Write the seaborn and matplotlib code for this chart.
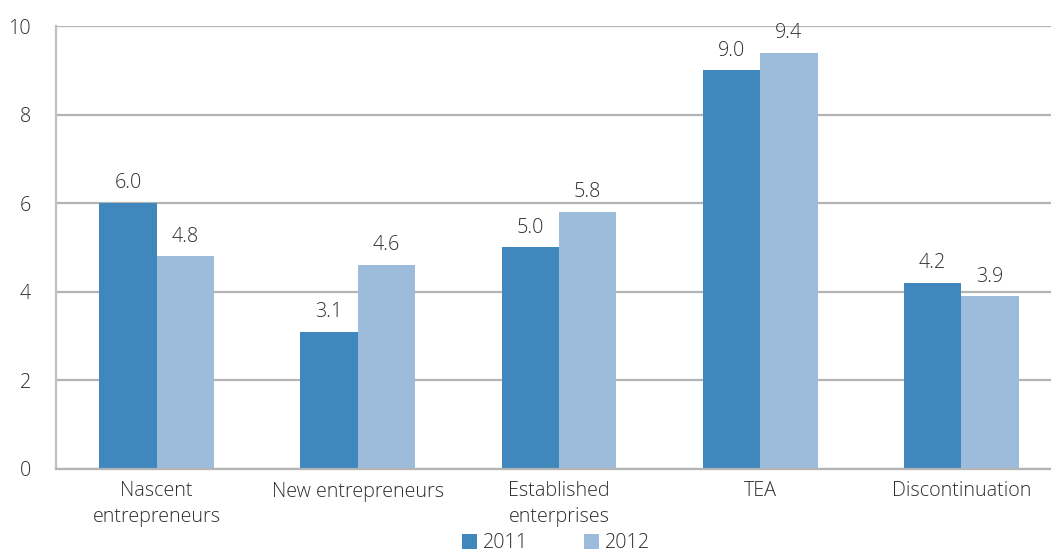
import matplotlib
matplotlib.use("Agg")
import matplotlib.pyplot as plt
import seaborn as sns
import pandas as pd
import numpy as np

categories = ["Nascent\nentrepreneurs", "New entrepreneurs", "Established\nenterprises", "TEA", "Discontinuation"]
values_2011 = [6.0, 3.1, 5.0, 9.0, 4.2]
values_2012 = [4.8, 4.6, 5.8, 9.4, 3.9]
years = ["2011", "2012"]
colors = ["#3f87bd", "#9dbcdb"]
y_ticks = [0, 2, 4, 6, 8, 10]

df = pd.DataFrame({
    "category": categories * 2,
    "value": values_2011 + values_2012,
    "year": [years[0]] * len(categories) + [years[1]] * len(categories),
})

sns.set_theme(style="white")
plt.rcParams["font.family"] = ["Open Sans", "DejaVu Sans"]
plt.rcParams["font.weight"] = "light"
text_color = "#2e2e2e"
grid_color = "#b4b4b4"
fs = 14.2

fig = plt.figure(figsize=(10.51, 5.52), dpi=100)
ax = fig.add_axes([56 / 1051, 83 / 552, (1062 - 56) / 1051, (469 - 26) / 552])

sns.barplot(data=df, x="category", y="value", hue="year", palette=colors,
            width=0.57, saturation=1, linewidth=0, ax=ax, legend=True)

for container in ax.containers:
    ax.bar_label(container, fmt="%.1f", padding=7, fontsize=fs, color=text_color, fontweight="light")

ax.set_ylim(0, 10)
ax.set_xlim(-0.5, len(categories) - 0.5)
ax.set_yticks(y_ticks)
ax.set_yticklabels([str(t) for t in y_ticks], fontsize=fs, color=text_color, fontweight="light")
ax.yaxis.grid(True, color=grid_color, linewidth=1.6)
ax.set_axisbelow(True)
ax.set_xlabel("")
ax.set_ylabel("")

ax.set_xticks(range(len(categories)))
ax.set_xticklabels(categories, fontsize=fs, color=text_color, linespacing=1.35, fontweight="light")
ax.tick_params(axis="x", length=0, pad=9)
ax.set_xticks(np.arange(-0.5, len(categories), 1.0), minor=True)
ax.tick_params(axis="x", which="minor", length=7, width=1.5, color=grid_color, direction="out")
ax.tick_params(axis="y", length=5, width=1.5, color=grid_color, direction="out", pad=13)

for side in ["top", "right"]:
    ax.spines[side].set_visible(False)
ax.spines["left"].set_color("#c0c0c0")
ax.spines["left"].set_linewidth(1.6)
ax.spines["bottom"].set_color(grid_color)
ax.spines["bottom"].set_linewidth(1.6)

handles, labels = ax.get_legend_handles_labels()
leg = ax.legend(handles, labels, loc="center", bbox_to_anchor=(556 / 1051, 9 / 552),
                bbox_transform=fig.transFigure, ncol=2, frameon=False,
                prop={"size": fs, "weight": "light"},
                handlelength=0.8, handleheight=0.8, handletextpad=0.3, columnspacing=2.8,
                labelcolor=text_color)

fig.savefig("out.png", dpi=100)
